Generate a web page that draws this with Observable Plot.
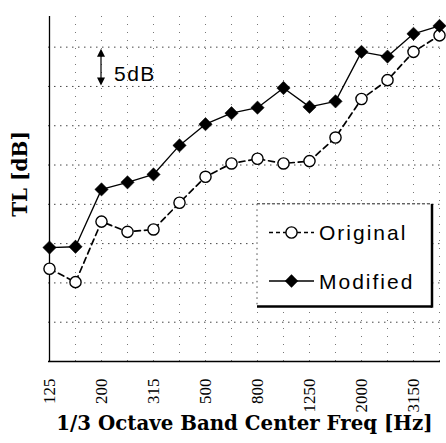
<!DOCTYPE html>
<html>
<head>
<meta charset="utf-8">
<script src="https://cdn.jsdelivr.net/npm/d3@7"></script>
<script src="https://cdn.jsdelivr.net/npm/@observablehq/plot@0.6"></script>
<style>
  html, body { margin: 0; padding: 0; background: #fff; }
  #chart { position: relative; width: 446px; height: 443px; }
</style>
</head>
<body>
<div id="chart"></div>
<script>
// ---- data ----
const freqs = ["125","160","200","250","315","400","500","630","800","1000","1250","1600","2000","2500","3150","4000"];
const tickLabels = ["125","200","315","500","800","1250","2000","3150"];
const original = [21.8, 20.1, 27.8, 26.5, 26.8, 30.2, 33.5, 35.2, 35.8, 35.2, 35.5, 38.5, 43.4, 45.8, 49.4, 51.5];
const modified = [24.5, 24.6, 31.9, 32.8, 33.8, 37.5, 40.2, 41.6, 42.3, 44.8, 42.4, 43.1, 49.4, 48.8, 51.7, 52.7];
const gridY = [15, 20, 25, 30, 35, 40, 45, 50];
const seriesNames = ["Original", "Modified"];
const xTitle = "1/3 Octave Band Center Freq [Hz]";
const yTitle = "TL [dB]";
const scaleNote = "5dB";

const origData = freqs.map((f, i) => ({f, v: original[i]}));
const modData = freqs.map((f, i) => ({f, v: modified[i]}));

const serif = "'DejaVu Serif', 'Liberation Serif', serif";
const sans = "'Liberation Sans', Arial, sans-serif";

const plot = Plot.plot({
  width: 446,
  height: 443,
  marginLeft: 48,
  marginRight: 6,
  marginTop: 16,
  marginBottom: 82,
  style: {background: "white", overflow: "visible"},
  x: {type: "point", domain: freqs, padding: 0, axis: null},
  y: {domain: [10, 53.9], axis: null},
  marks: [
    Plot.ruleX(freqs.slice(1), {stroke: "#777", strokeWidth: 1, strokeDasharray: "1,7"}),
    Plot.ruleY(gridY, {stroke: "#444", strokeWidth: 1, strokeDasharray: "1.5,4.5"}),
    Plot.ruleX([freqs[0]], {stroke: "black", strokeWidth: 1.3}),
    Plot.ruleY([10], {stroke: "black", strokeWidth: 1.3}),
    Plot.line(origData, {x: "f", y: "v", stroke: "black", strokeWidth: 1.7, strokeDasharray: "6,4"}),
    Plot.line(modData, {x: "f", y: "v", stroke: "black", strokeWidth: 1.3}),
    Plot.dot(origData, {x: "f", y: "v", r: 5.6, fill: "white", stroke: "black", strokeWidth: 1.4}),
    Plot.dot(modData, {x: "f", y: "v", r: 6, symbol: "diamond2", fill: "black", stroke: "black", strokeWidth: 0.5}),
    Plot.text(tickLabels, {x: d => d, frameAnchor: "bottom", dy: 17, rotate: -90, textAnchor: "end", lineAnchor: "middle",
      fontSize: 17, fontFamily: "'Liberation Serif', serif", fill: "black"}),
    Plot.text([xTitle], {frameAnchor: "bottom", dy: 68, fontSize: 19.8, fontWeight: "bold", fontFamily: serif, fill: "black", lineAnchor: "bottom"})
  ]
});

document.getElementById("chart").appendChild(plot);

// ---- legend, y title and scale annotation (positioned with the plot's scales) ----
const sx = plot.scale("x"), sy = plot.scale("y");
const svg = d3.select(plot);

svg.append("text").attr("transform", "translate(27,174) rotate(-90)")
  .attr("text-anchor", "middle").text(yTitle)
  .attr("font-family", serif).attr("font-size", 20).attr("font-weight", "bold").attr("fill", "black");

const bx0 = sx.apply("800"), by0 = sy.apply(30);
const bx1 = 432, by1 = 306.5;
const lg = svg.append("g").attr("text-anchor", "start");
lg.append("rect").attr("x", bx0).attr("y", by0).attr("width", bx1 - bx0).attr("height", by1 - by0).attr("fill", "white");
lg.append("line").attr("x1", bx0).attr("x2", bx1).attr("y1", by0).attr("y2", by0).attr("stroke", "#222").attr("stroke-dasharray", "3,2");
lg.append("line").attr("x1", bx0).attr("x2", bx0).attr("y1", by0).attr("y2", by1).attr("stroke", "#444").attr("stroke-dasharray", "1.5,4");
lg.append("line").attr("x1", bx1).attr("x2", bx1).attr("y1", by0).attr("y2", by1 + 1.2).attr("stroke", "black").attr("stroke-width", 2.5);
lg.append("line").attr("x1", bx0).attr("x2", bx1).attr("y1", by1).attr("y2", by1).attr("stroke", "black").attr("stroke-width", 2.5);

const rows = [{y: 232.5, name: seriesNames[0], dashed: true}, {y: 281, name: seriesNames[1], dashed: false}];
rows.forEach(r => {
  lg.append("line").attr("x1", 269).attr("x2", 314).attr("y1", r.y).attr("y2", r.y)
    .attr("stroke", "black").attr("stroke-width", r.dashed ? 1.4 : 1.3)
    .attr("stroke-dasharray", r.dashed ? "4,3" : null);
  if (r.dashed) {
    lg.append("circle").attr("cx", 291.5).attr("cy", r.y).attr("r", 5.6).attr("fill", "white").attr("stroke", "black").attr("stroke-width", 1.4);
  } else {
    lg.append("path").attr("transform", `translate(291.5,${r.y})`).attr("d", d3.symbol(d3.symbolDiamond2, Math.PI * 36)()).attr("fill", "black");
  }
  lg.append("text").attr("x", 319).attr("y", r.y + 7.5).text(r.name)
    .attr("font-family", sans).attr("font-size", 21).attr("letter-spacing", 2).attr("fill", "black");
});

// 5 dB scale arrow (spans one grid step, 50 -> 45 dB)
const ax = sx.apply("200");
const ya = sy.apply(50) + 2, yb = sy.apply(45) - 0.5;
const ag = svg.append("g").attr("text-anchor", "start");
ag.append("line").attr("x1", ax).attr("x2", ax).attr("y1", ya + 5).attr("y2", yb - 5).attr("stroke", "black").attr("stroke-width", 1.2);
ag.append("path").attr("d", `M${ax},${ya} L${ax - 4},${ya + 8} L${ax + 4},${ya + 8} Z`).attr("fill", "black");
ag.append("path").attr("d", `M${ax},${yb} L${ax - 4},${yb - 8} L${ax + 4},${yb - 8} Z`).attr("fill", "black");
ag.append("text").attr("x", ax + 13).attr("y", yb - 4).text(scaleNote)
  .attr("font-family", sans).attr("font-size", 21).attr("letter-spacing", 1.5).attr("fill", "black");
</script>
</body>
</html>
